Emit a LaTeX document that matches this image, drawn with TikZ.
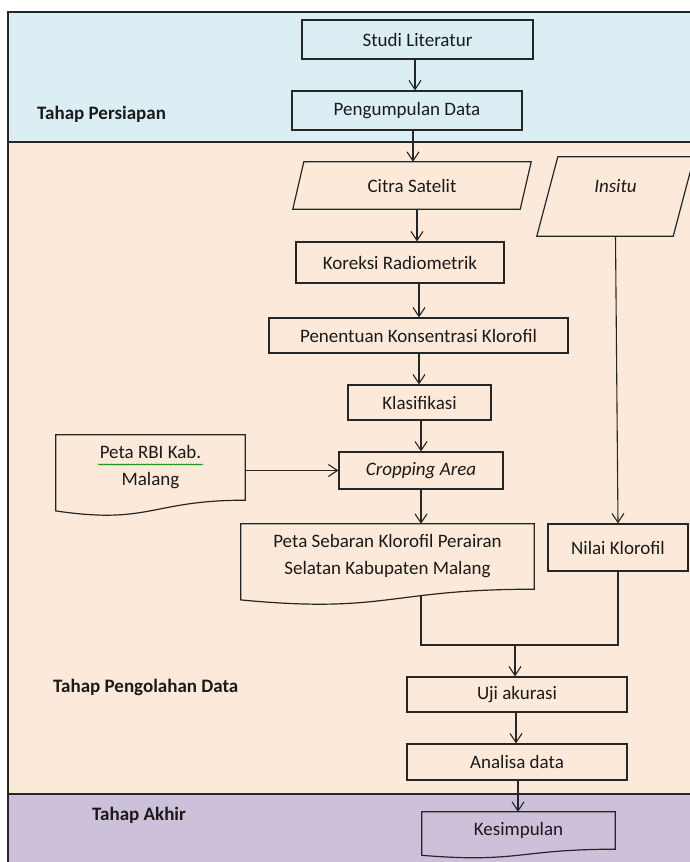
\documentclass[tikz,border=0pt]{standalone}
\usepackage{fontspec}
\setmainfont{Carlito}
\usetikzlibrary{arrows.meta,calc,decorations.pathmorphing}
\pgfdeclarelayer{bands}
\pgfdeclarelayer{conn}
\pgfdeclarelayer{shapes}
\pgfsetlayers{bands,conn,shapes,main}
\definecolor{bluebg}{HTML}{DAEEF3}
\definecolor{peach}{HTML}{FDE9D9}
\definecolor{purp}{HTML}{CCC0DA}
\definecolor{lc}{HTML}{262626}
\definecolor{tc}{HTML}{1A1A1A}
\newcommand{\mydoc}[4]{%
  \begin{pgfonlayer}{shapes}
  \draw[shp, fill=#4] (#1.north west) -- (#1.north east) -- (#1.south east)
    .. controls (#1.south) and ($(#1.south)+(0,#3)$) .. ($(#1.south west)+(0,#2)$) -- cycle;
  \end{pgfonlayer}}
\begin{document}
\begin{tikzpicture}[x=1pt,y=-1pt,
  every node/.append style={font=\fontsize{19}{27}\selectfont, text=tc},
  box/.style={draw=lc, line width=1.2pt, inner sep=0pt, align=center},
  plain/.style={inner sep=0pt, align=center},
  shp/.style={draw=lc, line width=1.2pt},
  frame/.style={draw=lc, line width=1.2pt},
  ln/.style={draw=lc, line width=1.1pt},
  arr/.style={draw=lc, line width=1.1pt, -{Straight Barb[length=9pt,width=12pt,line width=1.1pt]}},
  lbl/.style={font=\fontsize{19}{27}\selectfont\bfseries, anchor=west, inner sep=0pt}]
\useasboundingbox (0,0) rectangle (690,862);
% bands
\begin{pgfonlayer}{bands}
\fill[bluebg] (8,12) rectangle (690,142);
\fill[peach] (8,142) rectangle (690,794);
\fill[purp] (8,794) rectangle (690,862);
\draw[frame] (8,862) -- (8,12) -- (690,12);
\draw[frame] (8,142) -- (690,142);
\draw[frame] (8,794) -- (690,794);
\end{pgfonlayer}
% labels
\node[lbl] (l1) at (37,114) {Tahap Persiapan};
\node[lbl] (l2) at (53,687) {Tahap Pengolahan Data};
\node[lbl] (l3) at (92,815) {Tahap Akhir};
% nodes
\node[box, minimum width=231pt, minimum height=39pt] (studi) at (417.5,39.5) {Studi Literatur};
\node[box, minimum width=230pt, minimum height=39pt] (peng) at (407,110.5) {Pengumpulan Data};
\node[plain, minimum width=238pt, minimum height=47pt] (citra) at (412,185.5) {Citra Satelit};
\begin{pgfonlayer}{shapes}
\draw[shp] ($(citra.north west)+(11,0)$) -- (citra.north east) -- ($(citra.south east)+(-11,0)$) -- (citra.south west) -- cycle;
\end{pgfonlayer}
\node[plain, minimum width=157pt, minimum height=79pt] (insitu) at (615.5,196.5) {};
\node[plain, font=\fontsize{19}{27}\selectfont\itshape] (insitulbl) at ($(insitu.center)+(0,-10.5)$) {Insitu};
\begin{pgfonlayer}{shapes}
\draw[shp] ($(insitu.north west)+(21,0)$) -- (insitu.north east) -- ($(insitu.south east)+(-21,0)$) -- (insitu.south west) -- cycle;
\end{pgfonlayer}
\node[box, minimum width=208pt, minimum height=41pt] (koreksi) at (400,262.5) {Koreksi Radiometrik};
\node[box, minimum width=299pt, minimum height=35pt] (penentuan) at (418.5,335.5) {Penentuan Konsentrasi Klorofil};
\node[box, minimum width=143pt, minimum height=35pt] (klas) at (419.5,402.5) {Klasifikasi};
\node[box, minimum width=164pt, minimum height=37pt, font=\fontsize{19}{27}\selectfont\itshape] (crop) at (421,470.5) {Cropping Area};
\node[plain, minimum width=189pt, minimum height=65pt] (rbi) at (150.5,467.5) {Peta RBI Kab.\\Malang};
\mydoc{rbi}{10.7}{24.7}{peach}
\draw[green!55!black, line width=0.6pt, decorate, decoration={snake,amplitude=0.6pt,segment length=2.5pt}] ($(rbi.center)+(-52.5,-3)$) -- ($(rbi.center)+(52.5,-3)$);
\node[plain, minimum width=293pt, minimum height=65pt] (sebaran) at (387.5,556.5) {Peta Sebaran Klorofil Perairan\\Selatan Kabupaten Malang};
\mydoc{sebaran}{10.7}{24.7}{peach}
\node[box, minimum width=140pt, minimum height=47pt] (nilai) at (618,547.5) {Nilai Klorofil};
\node[box, minimum width=220pt, minimum height=35pt] (uji) at (517,694.5) {Uji akurasi};
\node[box, minimum width=220pt, minimum height=36pt] (analisa) at (517,762) {Analisa data};
\node[plain, minimum width=193pt, minimum height=37pt] (kes) at (518.5,830.5) {Kesimpulan};
\mydoc{kes}{6.1}{14.1}{purp}
% connector x positions
\coordinate (x1) at (415,0);
\coordinate (x2) at (413,0);
\coordinate (x3) at (417,0);
\coordinate (x4) at (419,0);
\coordinate (x6) at (421,0);
\coordinate (x8) at (516,0);
\coordinate (x9) at (518,0);
\coordinate (mrg) at (515,645);
\begin{pgfonlayer}{conn}
\draw[arr] (studi.south -| x1) -- (peng.north -| x1);
\draw[arr] (peng.south -| x2) -- (citra.north -| x2);
\draw[arr] (citra.south -| x3) -- (koreksi.north -| x3);
\draw[arr] (koreksi.south -| x4) -- (penentuan.north -| x4);
\draw[arr] (penentuan.south -| x4) -- (klas.north -| x4);
\draw[arr] (klas.south -| x6) -- (crop.north -| x6);
\draw[arr] (rbi.east |- crop.west) -- (crop.west);
\draw[arr] (crop.south -| x6) -- (sebaran.north -| x6);
\draw[arr] (insitu.south) -- (nilai.north);
\draw[ln] (sebaran.south -| x6) |- (mrg) -| (nilai.south);
\draw[arr] (mrg) -- (uji.north -| mrg);
\draw[arr] (uji.south -| x8) -- (analisa.north -| x8);
\draw[arr] (analisa.south -| x9) -- (kes.north -| x9);
\end{pgfonlayer}
\end{tikzpicture}
\end{document}
